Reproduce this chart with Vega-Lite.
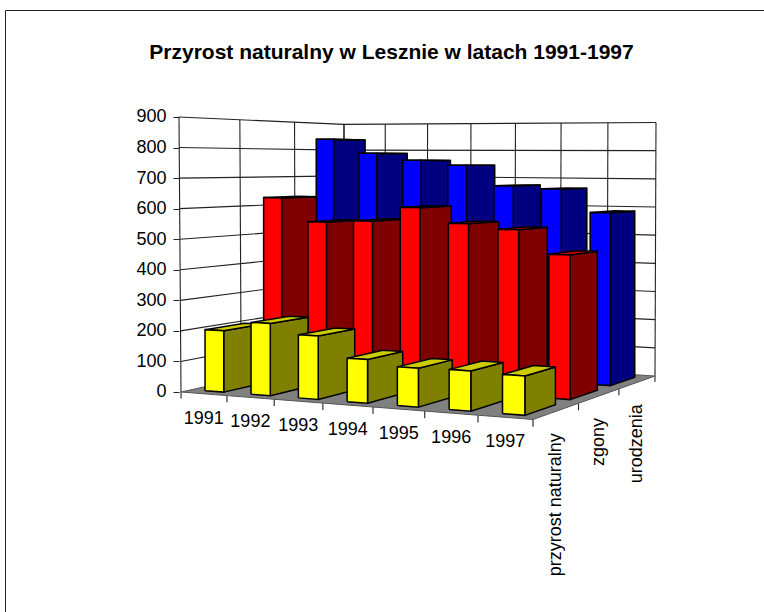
{"$schema":"https://vega.github.io/schema/vega-lite/v6.json","width":759,"height":602,"autosize":{"type":"none"},"padding":{"left":5,"top":10,"right":0,"bottom":0},"background":"white","config":{"view":{"stroke":"#222222","strokeWidth":1},"font":"Liberation Sans"},"title":{"text":"Przyrost naturalny w Lesznie w latach 1991-1997","font":"Liberation Sans","fontSize":21,"fontWeight":"bold","color":"black","anchor":"middle","dx":7,"dy":22,"offset":-52,"baseline":"bottom"},"datasets":{"bars":[{"year":1991,"series":"urodzenia","value":838},{"year":1992,"series":"urodzenia","value":787},{"year":1993,"series":"urodzenia","value":762},{"year":1994,"series":"urodzenia","value":745},{"year":1995,"series":"urodzenia","value":674},{"year":1996,"series":"urodzenia","value":665},{"year":1997,"series":"urodzenia","value":586},{"year":1991,"series":"zgony","value":629},{"year":1992,"series":"zgony","value":548},{"year":1993,"series":"zgony","value":555},{"year":1994,"series":"zgony","value":604},{"year":1995,"series":"zgony","value":554},{"year":1996,"series":"zgony","value":538},{"year":1997,"series":"zgony","value":462},{"year":1991,"series":"przyrost naturalny","value":201},{"year":1992,"series":"przyrost naturalny","value":233},{"year":1993,"series":"przyrost naturalny","value":202},{"year":1994,"series":"przyrost naturalny","value":137},{"year":1995,"series":"przyrost naturalny","value":120},{"year":1996,"series":"przyrost naturalny","value":122},{"year":1997,"series":"przyrost naturalny","value":118}],"grid":[{"grid":"value","at":100},{"grid":"value","at":200},{"grid":"value","at":300},{"grid":"value","at":400},{"grid":"value","at":500},{"grid":"value","at":600},{"grid":"value","at":700},{"grid":"value","at":800},{"grid":"value","at":900},{"grid":"year","at":0},{"grid":"year","at":1},{"grid":"year","at":2},{"grid":"year","at":3},{"grid":"year","at":4},{"grid":"year","at":5},{"grid":"year","at":6},{"grid":"year","at":7},{"grid":"series","at":0},{"grid":"series","at":1},{"grid":"series","at":2},{"grid":"series","at":3},{"grid":"yearTick","at":0},{"grid":"yearTick","at":1},{"grid":"yearTick","at":2},{"grid":"yearTick","at":3},{"grid":"yearTick","at":4},{"grid":"yearTick","at":5},{"grid":"yearTick","at":6},{"grid":"yearTick","at":7},{"grid":"seriesTick","at":1},{"grid":"seriesTick","at":2},{"grid":"seriesTick","at":3}]},"layer":[{"data":{"name":"grid"},"transform":[{"calculate":"[0,1,2]","as":"ps"},{"flatten":["ps"],"as":["p"]},{"calculate":"datum.grid+datum.at","as":"id"},{"calculate":"datum.grid=='value'?(datum.p==2?1:0):(datum.grid=='year'||datum.grid=='yearTick')?datum.at/7:datum.grid=='seriesTick'?1:0","as":"U"},{"calculate":"datum.grid=='value'?(datum.p==0?0:1):datum.grid=='year'?1:datum.grid=='yearTick'?0:datum.at/3","as":"V"},{"calculate":"datum.grid=='value'?datum.at/900:(datum.grid=='year'||datum.grid=='series')?(datum.p==0?0:1):(datum.p==0?0:-0.024)","as":"T"},{"calculate":"1-0.1*datum.U+0.171*datum.V","as":"W"},{"calculate":"(298.7*datum.U+221.8*datum.V+181)/datum.W+datum.T*(2*datum.V+datum.U-2)","as":"px"},{"calculate":"(392-(-14.45*datum.U+25.15*datum.V+392-(275-3.5*datum.V)*datum.T)/datum.W)*900/275","as":"Y"}],"mark":{"type":"line","stroke":"#222222","strokeWidth":1.1,"interpolate":"linear"},"encoding":{"x":{"field":"px","type":"quantitative","scale":{"domain":[5,764],"nice":false,"zero":false},"axis":null},"y":{"field":"Y","type":"quantitative","scale":{"domain":[-720,1250.18],"nice":false,"zero":false},"axis":{"values":[0,100,200,300,400,500,600,700,800,900],"orient":"left","offset":-174,"domain":false,"grid":false,"title":null,"tickSize":6,"tickColor":"#222222","labelFontSize":18,"labelColor":"black","labelFont":"Liberation Sans","labelPadding":7}},"detail":{"field":"id"},"order":{"field":"p"}}},{"data":{"values":[{"plane":"floor"}]},"transform":[{"calculate":"[0,1,2,3,4]","as":"ps"},{"flatten":["ps"],"as":["p"]},{"calculate":"(datum.p==1||datum.p==2)?1:0","as":"U"},{"calculate":"(datum.p==2||datum.p==3)?1:0","as":"V"},{"calculate":"0","as":"T"},{"calculate":"1-0.1*datum.U+0.171*datum.V","as":"W"},{"calculate":"(298.7*datum.U+221.8*datum.V+181)/datum.W","as":"px"},{"calculate":"(392-(-14.45*datum.U+25.15*datum.V+392)/datum.W)*900/275","as":"Y"}],"mark":{"type":"line","fill":"#808080","stroke":"#555555","strokeWidth":1},"encoding":{"x":{"field":"px","type":"quantitative"},"y":{"field":"Y","type":"quantitative"},"order":{"field":"p"}}},{"data":{"name":"bars"},"transform":[{"calculate":"datum.year-1991","as":"i"},{"calculate":"indexof(['przyrost naturalny','zgony','urodzenia'],datum.series)","as":"s"},{"calculate":"['side','top','front']","as":"faces"},{"flatten":["faces"],"as":["face"]},{"calculate":"[0,1,2,3,4]","as":"ks"},{"flatten":["ks"],"as":["k"]},{"calculate":"datum.k%4","as":"c"},{"calculate":"datum.year+datum.series+datum.face","as":"id"},{"calculate":"datum.series+'|'+datum.face","as":"shade"},{"calculate":"(datum.i+((datum.face=='side'||datum.c==1||datum.c==2)?0.705:0.295))/7","as":"U"},{"calculate":"(datum.s+(datum.face=='front'?0.17:datum.face=='side'?((datum.c==1||datum.c==2)?0.83:0.17):((datum.c==2||datum.c==3)?0.83:0.17)))/3","as":"V"},{"calculate":"(datum.face=='top'||datum.c>=2)?datum.value/900:0","as":"T"},{"calculate":"1-0.1*datum.U+0.171*datum.V","as":"W"},{"calculate":"(298.7*datum.U+221.8*datum.V+181)/datum.W","as":"px"},{"calculate":"(392-(-14.45*datum.U+25.15*datum.V+392-(275-3.5*datum.V)*datum.T)/datum.W)*900/275","as":"Y"}],"mark":{"type":"line","stroke":"black","strokeWidth":1.5,"strokeJoin":"miter"},"encoding":{"x":{"field":"px","type":"quantitative"},"y":{"field":"Y","type":"quantitative"},"detail":{"field":"id"},"order":{"field":"k"},"fill":{"field":"shade","type":"nominal","legend":null,"scale":{"domain":["urodzenia|front","urodzenia|side","urodzenia|top","zgony|front","zgony|side","zgony|top","przyrost naturalny|front","przyrost naturalny|side","przyrost naturalny|top"],"range":["#0000FF","#000080","#0000CC","#FF0000","#800000","#CC0000","#FFFF00","#808000","#CCCC00"]}}}},{"data":{"values":[{"year":1991},{"year":1992},{"year":1993},{"year":1994},{"year":1995},{"year":1996},{"year":1997}]},"transform":[{"calculate":"(datum.year-1991+0.5)/7","as":"U"},{"calculate":"1-0.1*datum.U","as":"W"},{"calculate":"(298.7*datum.U+181)/datum.W","as":"px"},{"calculate":"(392-(-14.45*datum.U+392)/datum.W)*900/275","as":"Y"}],"mark":{"type":"text","fontSize":18,"font":"Liberation Sans","color":"black","align":"center","baseline":"middle","dy":25,"dx":0},"encoding":{"x":{"field":"px","type":"quantitative"},"y":{"field":"Y","type":"quantitative"},"text":{"field":"year","type":"nominal"}}},{"data":{"values":[{"series":"przyrost naturalny"},{"series":"zgony"},{"series":"urodzenia"}]},"transform":[{"calculate":"(indexof(['przyrost naturalny','zgony','urodzenia'],datum.series)+0.5)/3","as":"V"},{"calculate":"0.9+0.171*datum.V","as":"W"},{"calculate":"(298.7+221.8*datum.V+181)/datum.W","as":"px"},{"calculate":"(392-(-14.45+25.15*datum.V+392)/datum.W)*900/275","as":"Y"}],"mark":{"type":"text","fontSize":18,"font":"Liberation Sans","color":"black","align":"right","baseline":"middle","angle":270,"dy":0,"dx":-22},"encoding":{"x":{"field":"px","type":"quantitative"},"y":{"field":"Y","type":"quantitative"},"text":{"field":"series","type":"nominal"}}}]}
